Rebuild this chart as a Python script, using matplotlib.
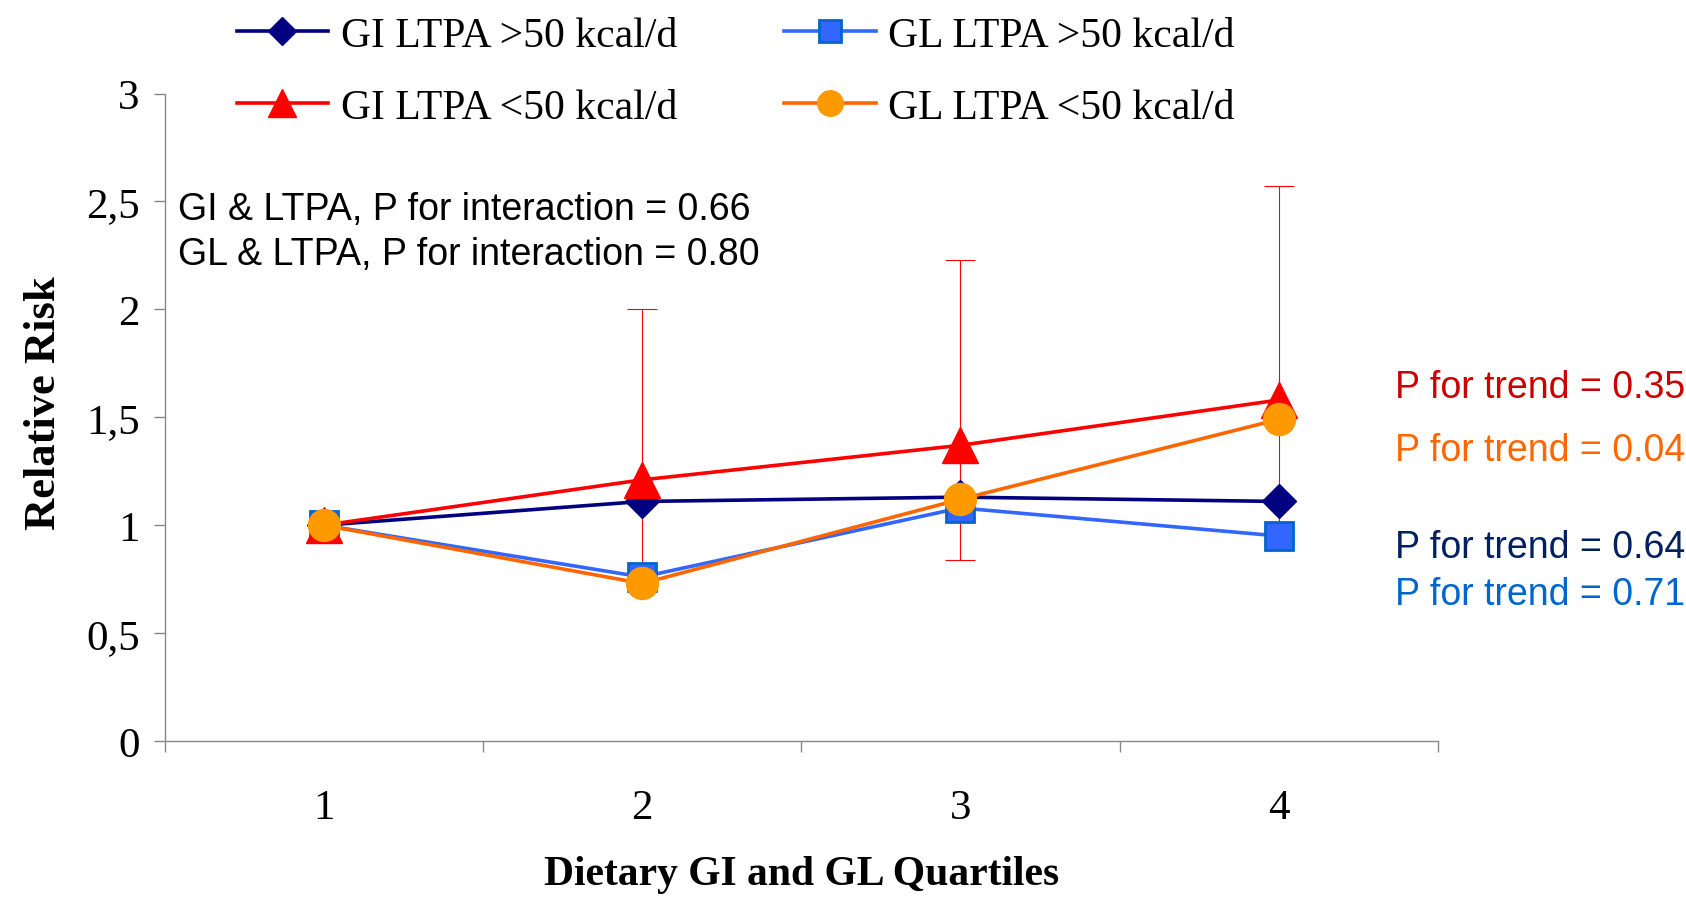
import matplotlib
matplotlib.use("Agg")
import matplotlib.pyplot as plt
from matplotlib.ticker import FixedLocator, FuncFormatter

# ── Données ──────────────────────────────────────────────────
QUARTILES = [1, 2, 3, 4]
GI_HAUT = [1.00, 1.11, 1.13, 1.11]      # GI LTPA >50 kcal/d
GL_HAUT = [1.00, 0.76, 1.08, 0.95]      # GL LTPA >50 kcal/d
GI_BAS = [1.00, 1.21, 1.37, 1.58]       # GI LTPA <50 kcal/d
GL_BAS = [1.00, 0.73, 1.12, 1.49]       # GL LTPA <50 kcal/d
GI_BAS_INF = [1.00, 0.73, 0.84, 0.97]   # IC 95% (borne basse)
GI_BAS_SUP = [1.00, 2.00, 2.23, 2.57]   # IC 95% (borne haute)
Y_TICKS = [0, 0.5, 1, 1.5, 2, 2.5, 3]

P_INTER = ["GI & LTPA, P for interaction = 0.66",
           "GL & LTPA, P for interaction = 0.80"]
P_TREND = ["0.35", "0.04", "0.64", "0.71"]

SERIF = "Liberation Serif"
SANS = "Liberation Sans"

fig = plt.figure(figsize=(16.86, 9.04), dpi=100)
ax = fig.add_axes([0.0976, 0.1792, 0.7552, 0.7162])

l_gi_haut, = ax.plot(QUARTILES, GI_HAUT, color="#000080", lw=2.6, marker="D",
                     ms=17.5, mfc="#000080", mec="#000080", zorder=3)
l_gl_haut, = ax.plot(QUARTILES, GL_HAUT, color="#3366ff", lw=2.6, marker="s",
                     ms=20, mfc="#3366ff", mec="#0066cc", mew=2, zorder=3)

# barres d'erreur seulement pour GI LTPA <50
err_bas = [g - b for g, b in zip(GI_BAS, GI_BAS_INF)]
err_haut = [h - g for g, h in zip(GI_BAS, GI_BAS_SUP)]
ax.errorbar(QUARTILES, GI_BAS, yerr=[err_bas, err_haut], fmt="none",
            ecolor="#ff0000", elinewidth=0.8, capsize=11, capthick=0.8, zorder=2)
l_gi_bas, = ax.plot(QUARTILES, GI_BAS, color="#ff0000", lw=2.6, marker="^",
                    ms=26, mfc="#ff0000", mec="#ff0000", zorder=4)
l_gl_bas, = ax.plot(QUARTILES, GL_BAS, color="#ff6600", lw=2.6, marker="o",
                    ms=23, mfc="#ff9900", mec="#ff9900", zorder=5)

ax.set_xlim(0.5, 4.5)
ax.set_ylim(0, 3)
ax.set_yticks(Y_TICKS)
ax.yaxis.set_major_formatter(FuncFormatter(lambda v, _: f"{v:g}".replace(".", ",")))
ax.set_xticks(QUARTILES)
ax.xaxis.set_minor_locator(FixedLocator([0.5, 1.5, 2.5, 3.5, 4.5]))
ax.tick_params(axis="x", which="major", length=0, pad=34)
ax.tick_params(axis="x", which="minor", length=8, color="#888888", width=1)
ax.tick_params(axis="y", length=8, color="#888888", width=1, pad=10)
for lab in ax.get_xticklabels() + ax.get_yticklabels():
    lab.set_fontfamily(SERIF)
    lab.set_fontsize(31)

for s in ["top", "right"]:
    ax.spines[s].set_visible(False)
for s in ["left", "bottom"]:
    ax.spines[s].set_color("#888888")
    ax.spines[s].set_linewidth(1)

ax.set_ylabel("Relative Risk", family=SERIF, fontsize=32, fontweight="bold", labelpad=16)
ax.yaxis.label.set_y(0.523)
ax.set_xlabel("Dietary GI and GL Quartiles", family=SERIF, fontsize=30,
              fontweight="bold", labelpad=20)

# textes dans le graphique
ax.text(0.0105, 0.822, P_INTER[0], transform=ax.transAxes, family=SANS, fontsize=27,
        va="center", ha="left")
ax.text(0.0105, 0.752, P_INTER[1], transform=ax.transAxes, family=SANS, fontsize=27,
        va="center", ha="left")

couleurs_trend = ["#cc0000", "#ff6600", "#002060", "#0066cc"]
y_trend = [0.571, 0.501, 0.394, 0.342]
for p, c, yy in zip(P_TREND, couleurs_trend, y_trend):
    fig.text(0.8275, yy, f"P for trend = {p}", color=c, family=SANS, fontsize=27,
             va="center", ha="left")

# légende (ordre colonne par colonne)
fig.legend([l_gi_haut, l_gi_bas, l_gl_haut, l_gl_bas],
           ["GI LTPA >50 kcal/d", "GI LTPA <50 kcal/d",
            "GL LTPA >50 kcal/d", "GL LTPA <50 kcal/d"],
           ncol=2, loc="upper left", bbox_to_anchor=(0.128, 1.004),
           frameon=False, prop={"family": SERIF, "size": 30},
           handlelength=2.2, handletextpad=0.3, columnspacing=2.56,
           labelspacing=0.81, borderpad=0.0, markerscale=0.8)

fig.savefig("out.png", dpi=100)
